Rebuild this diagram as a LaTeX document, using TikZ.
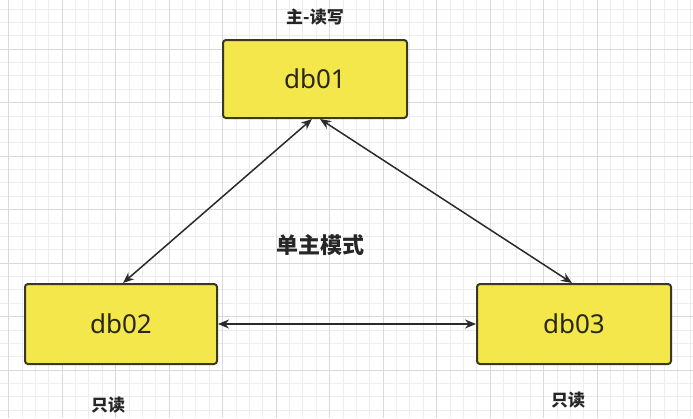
\documentclass[tikz,border=0pt]{standalone}
\usepackage{fontspec}
\setmainfont{Noto Sans}
\newfontfamily\cjk{Noto Sans CJK SC}
\usetikzlibrary{arrows.meta}
\definecolor{boxfill}{HTML}{F3E74C}
\definecolor{boxline}{HTML}{3A3820}
\definecolor{arrowcol}{HTML}{2A2A2A}
\tikzset{
  dbbox/.style={draw=boxline, fill=boxfill, line width=2pt, rounded corners=3pt, font=\fontsize{26}{30}\selectfont, text=boxline!70!black},
  cjklabel/.style={font=\cjk\bfseries\fontsize{17}{19}\selectfont, text=black!85},
  link/.style={draw=arrowcol, line width=1.5pt, {Stealth[length=11pt,width=9pt]}-{Stealth[length=11pt,width=9pt]}},
  minorgrid/.style={draw=black!7, line width=0.6pt},
  majorgrid/.style={draw=black!15, line width=1pt}
}
\begin{document}
\begin{tikzpicture}[x=1pt,y=-1pt]
\useasboundingbox (0,0) rectangle (693,418);
\fill[white] (0,0) rectangle (693,418);
% grid
\foreach \i in {-1,...,52} {
  \draw[minorgrid] ({8.5+13.375*\i},0) -- ({8.5+13.375*\i},418);
}
\foreach \i in {0,...,32} {
  \draw[minorgrid] (0,{-4.5+13.375*\i}) -- (693,{-4.5+13.375*\i});
}
\foreach \i in {0,...,13} {
  \draw[majorgrid] ({8.5+53.5*\i},0) -- ({8.5+53.5*\i},418);
}
\foreach \i in {1,...,8} {
  \draw[majorgrid] (0,{-4.5+53.5*\i}) -- (693,{-4.5+53.5*\i});
}
% boxes
\node[dbbox, minimum width=184pt, minimum height=78pt] (db01) at (315,79) {db01};
\node[dbbox, minimum width=192pt, minimum height=80pt] (db02) at (121,324) {db02};
\node[dbbox, minimum width=194pt, minimum height=80pt] (db03) at (574,324) {db03};
% labels
\node[cjklabel] (l1) at (315,17) {主-读写};
\node[cjklabel] (l2) at (108,405) {只读};
\node[cjklabel] (l3) at (568,400) {只读};
\node[cjklabel, font=\cjk\bfseries\fontsize{22}{24}\selectfont] (mode) at (320,245) {单主模式};
% links
\draw[link] ([xshift=-3pt]db01.south) -- ([xshift=2pt]db02.north);
\draw[link] ([xshift=5pt]db01.south) -- ([xshift=-2pt]db03.north);
\draw[link] (db02.east) -- (db03.west);
\end{tikzpicture}
\end{document}
